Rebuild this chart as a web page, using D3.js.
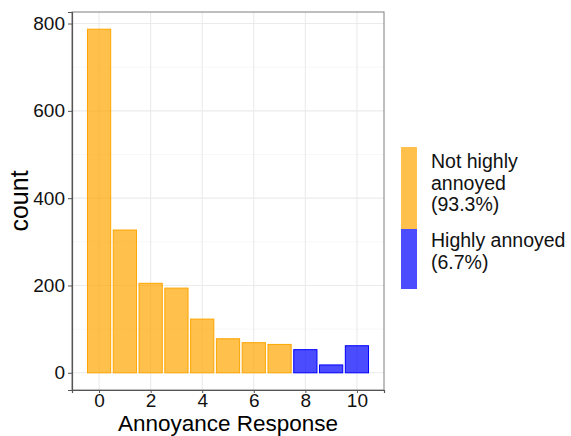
<!DOCTYPE html>
<html>
<head>
<meta charset="utf-8">
<script src="https://d3js.org/d3.v7.min.js"></script>
<style>
  body { margin: 0; background: #fff; }
  text { font-family: "Liberation Sans", Arial, sans-serif; }
</style>
</head>
<body>
<div id="chart"></div>
<script>
// annoyance response 0..10, counts per response
var responses = [0, 1, 2, 3, 4, 5, 6, 7, 8, 9, 10]
var counts = [787, 327, 205, 194, 123, 78, 69, 65, 53, 18, 62]
var xTicks = [0, 2, 4, 6, 8, 10]
var yTicks = [0, 200, 400, 600, 800]
var yMinor = [100, 300, 500, 700]
var groups = ["Not highly annoyed (93.3%)", "Highly annoyed (6.7%)"]
var groupLines = [["Not highly", "annoyed", "(93.3%)"], ["Highly annoyed", "(6.7%)"]]

var W = 571, H = 436
var margin = { top: 12, right: 187, bottom: 46, left: 72 }
var w = W - margin.left - margin.right,
    h = H - margin.top - margin.bottom

var fillCol = ["rgba(255,165,0,0.7)", "rgba(0,0,255,0.7)"]
var strokeCol = ["#FFA500", "#0000FF"]
function grp(r) { return r >= 8 ? 1 : 0 }

var svg = d3.select("#chart").append("svg")
    .attr("width", W).attr("height", H)

var g = svg.append("g").attr("transform", "translate(" + margin.left + "," + margin.top + ")")

var x = d3.scaleLinear().domain([-1.05, 11.05]).range([0, w])
var y = d3.scaleLinear().domain([-39.4, 826.4]).range([h, 0])

// grid
g.selectAll(".ymin").data(yMinor).enter().append("line")
    .attr("x1", 0).attr("x2", w)
    .attr("y1", d => y(d)).attr("y2", d => y(d))
    .attr("stroke", "#f2f2f2").attr("stroke-width", 0.6)
g.selectAll(".ymaj").data(yTicks).enter().append("line")
    .attr("x1", 0).attr("x2", w)
    .attr("y1", d => y(d)).attr("y2", d => y(d))
    .attr("stroke", "#ebebeb").attr("stroke-width", 1.1)
g.selectAll(".xmaj").data(xTicks).enter().append("line")
    .attr("y1", 0).attr("y2", h)
    .attr("x1", d => x(d)).attr("x2", d => x(d))
    .attr("stroke", "#ebebeb").attr("stroke-width", 1.1)

// bars
var bw = x(0.45) - x(-0.45)
g.selectAll(".bar").data(responses).enter().append("rect")
    .attr("x", (d) => x(d - 0.45))
    .attr("width", bw)
    .attr("y", (d, i) => y(counts[i]))
    .attr("height", (d, i) => y(0) - y(counts[i]))
    .attr("fill", d => fillCol[grp(d)])
    .attr("stroke", d => strokeCol[grp(d)])
    .attr("stroke-width", 1)

// panel border
g.append("rect").attr("x", 0).attr("y", 0).attr("width", w).attr("height", h)
    .attr("fill", "none").attr("stroke", "#7f7f7f").attr("stroke-width", 1)

// axes
var xAxis = g.append("g").attr("transform", "translate(0," + h + ")")
    .call(d3.axisBottom(x).tickValues(xTicks).tickSize(3).tickPadding(0))
var yAxis = g.append("g")
    .call(d3.axisLeft(y).tickValues(yTicks).tickSize(4).tickPadding(3))
;[xAxis, yAxis].forEach(function(a) {
    a.select(".domain").attr("stroke", "#555").attr("stroke-width", 1.2)
    a.selectAll(".tick line").attr("stroke", "#555")
    a.selectAll(".tick text").attr("fill", "#111").style("font-size", "19px")
        .style("font-family", "Liberation Sans, Arial, sans-serif")
})

// titles
svg.append("text").attr("x", margin.left + w / 2).attr("y", 431)
    .attr("text-anchor", "middle").style("font-size", "22.5px").attr("fill", "#000")
    .text("Annoyance Response")
svg.append("text")
    .attr("transform", "translate(28," + (margin.top + h / 2) + ") rotate(-90)")
    .attr("text-anchor", "middle").style("font-size", "25px").attr("fill", "#000")
    .text("count")

// legend
var lg = svg.append("g").attr("transform", "translate(401,147)")
var keyH = [82, 60]
var keyY = [0, 82]
var textY = [21, 100]
groups.forEach(function(name, i) {
    lg.append("rect").attr("x", 0).attr("y", keyY[i]).attr("width", 16).attr("height", keyH[i])
        .attr("fill", fillCol[i])
    groupLines[i].forEach(function(line, j) {
        lg.append("text").attr("x", 30).attr("y", textY[i] + j * 21.7)
            .style("font-size", "19.5px").attr("fill", "#111").text(line)
    })
})
</script>
</body>
</html>
